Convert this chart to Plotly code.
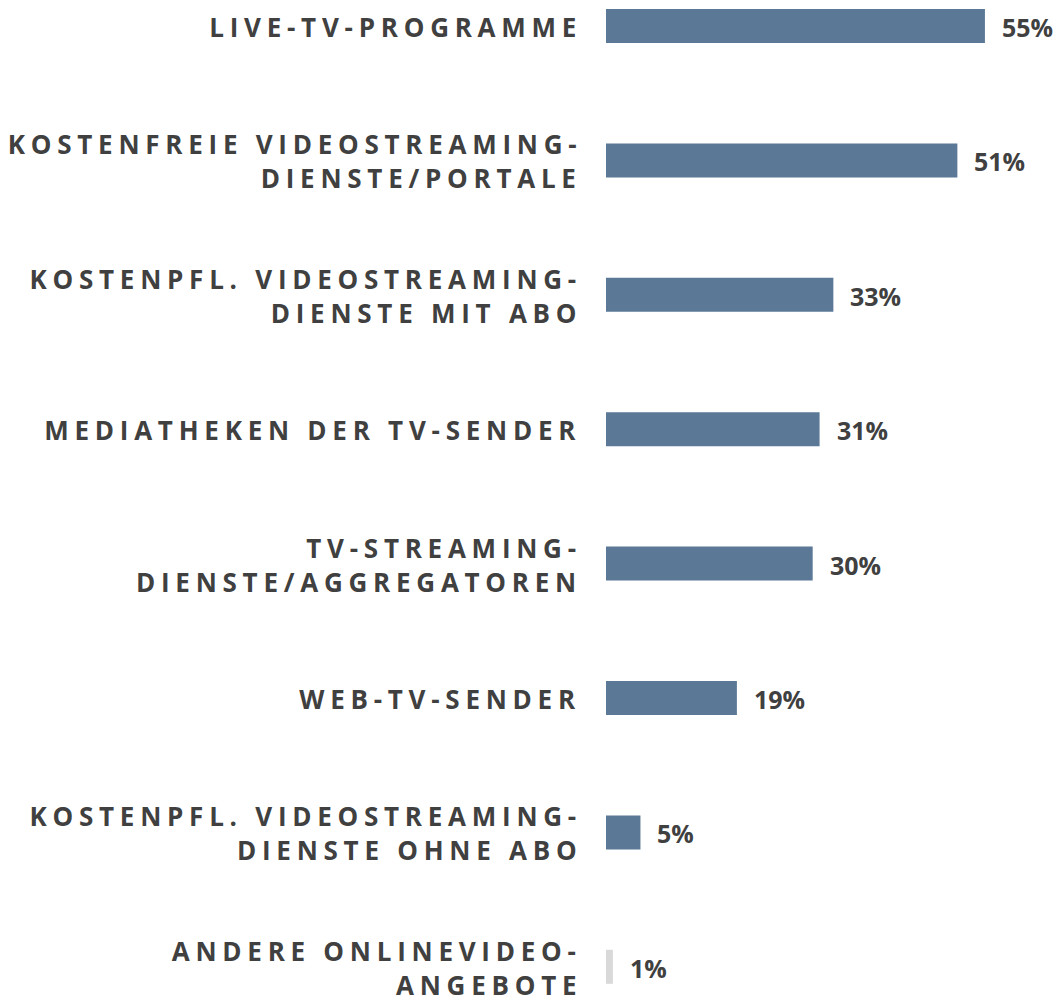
import plotly.graph_objects as go

categories = [
    "LIVE-TV-PROGRAMME",
    "KOSTENFREIE VIDEOSTREAMING-<br>DIENSTE/PORTALE",
    "KOSTENPFL. VIDEOSTREAMING-<br>DIENSTE MIT ABO",
    "MEDIATHEKEN DER TV-SENDER",
    "TV-STREAMING-<br>DIENSTE/AGGREGATOREN",
    "WEB-TV-SENDER",
    "KOSTENPFL. VIDEOSTREAMING-<br>DIENSTE OHNE ABO",
    "ANDERE ONLINEVIDEO-<br>ANGEBOTE",
]
values = [55, 51, 33, 31, 30, 19, 5, 1]
value_labels = ["55%", "51%", "33%", "31%", "30%", "19%", "5%", "1%"]

BLUE = "#5b7996"
GREY = "#d9d9d9"
TEXT = "#404040"
colors = [BLUE] * (len(values) - 1) + [GREY]

fig = go.Figure(
    go.Bar(
        y=categories,
        x=values,
        orientation="h",
        marker=dict(color=colors, line=dict(width=0)),
        width=0.253,
        hoverinfo="skip",
    )
)

annotations = []
LINE_GAP = 17
for cat in categories:
    lines = cat.split("<br>")
    n = len(lines)
    for k, line in enumerate(lines):
        offset = LINE_GAP - k * 2 * LINE_GAP if n > 1 else 0
        annotations.append(
            dict(
                x=0, y=cat, xref="x", yref="y",
                text=line, showarrow=False,
                xanchor="right", yanchor="middle", align="right",
                xshift=-22, yshift=offset - 1,
                font=dict(family="Open Sans", size=26, color=TEXT, weight="bold"),
            )
        )
for cat, v, lab in zip(categories, values, value_labels):
    annotations.append(
        dict(
            x=v, y=cat, xref="x", yref="y",
            text=lab, showarrow=False,
            xanchor="left", yanchor="middle",
            xshift=15, yshift=-1,
            font=dict(family="Open Sans", size=25, color=TEXT, weight="bold"),
        )
    )

fig.update_layout(
    width=1059,
    height=999,
    margin=dict(l=606, r=0, t=0, b=0),
    paper_bgcolor="white",
    plot_bgcolor="white",
    showlegend=False,
    xaxis=dict(range=[0, 65.75], visible=False, fixedrange=True),
    yaxis=dict(
        type="category",
        categoryorder="array",
        categoryarray=categories,
        range=[7.2396, -0.1935],
        visible=False,
        fixedrange=True,
    ),
    annotations=annotations,
)

post = """
(function(){
  document.body.style.margin = '0';
  var gd = document.getElementById('{plot_id}');
  function apply(){
    gd.querySelectorAll('.annotation-text').forEach(function(t){
      if (t.textContent.indexOf('%') === -1) { t.style.letterSpacing = '5.75px'; }
    });
  }
  apply();
  if (gd.on) { gd.on('plotly_afterplot', apply); }
})();
"""

fig.write_html("out.html", post_script=post, config={"displayModeBar": False})
